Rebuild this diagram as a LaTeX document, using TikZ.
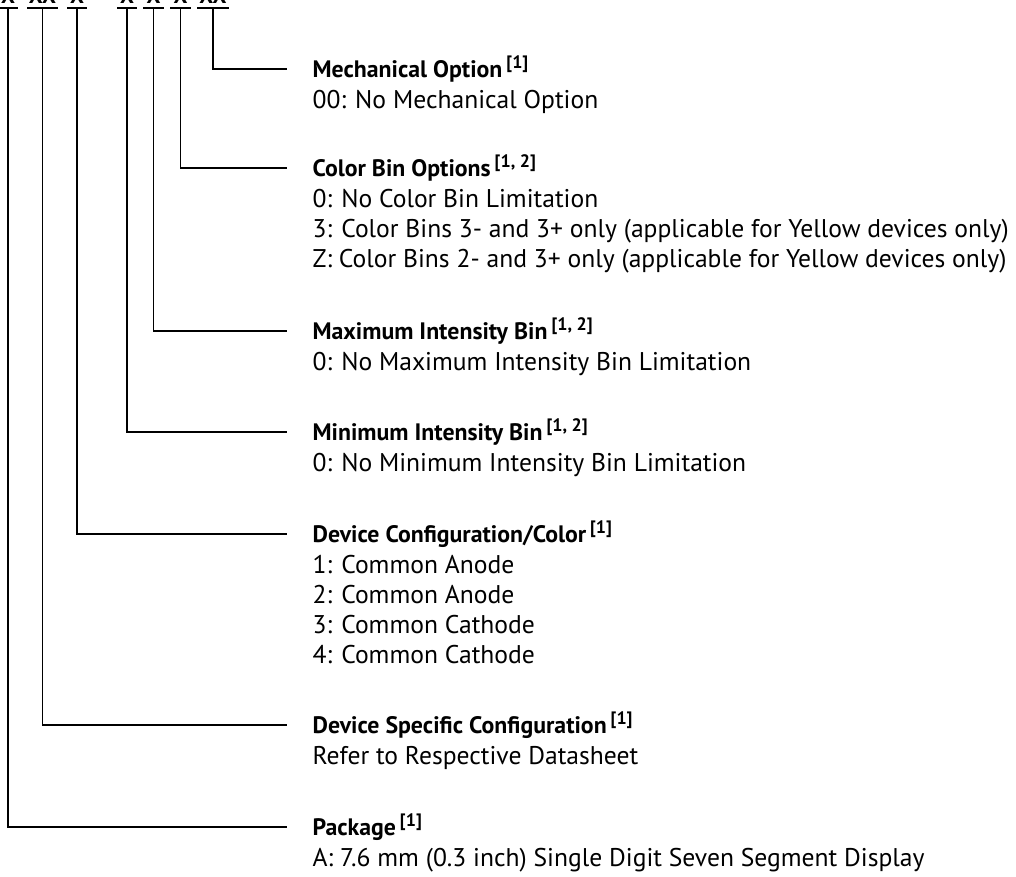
\documentclass[tikz,border=0pt]{standalone}
\usepackage{fontspec}
\setmainfont{PT Sans}
\usetikzlibrary{positioning}
\newcommand{\noteref}[1]{\hspace{4pt}\raisebox{9pt}{\fontsize{18}{18}\selectfont[#1]}}
\newcommand{\topstrut}{\rule{0pt}{26pt}}

\begin{document}
\begin{tikzpicture}[x=1pt, y=-1pt, line width=1.2pt,
    code/.style={anchor=base, inner sep=0pt, font=\bfseries\fontsize{22}{22}\selectfont},
    head/.style={anchor=base west, inner sep=0pt, font=\bfseries\fontsize{23.8}{24}\selectfont},
    desc/.style={inner sep=0pt, align=left, font=\fontsize{25.6}{30}\selectfont},
    lead/.style={xshift=-25pt, yshift=8pt}]
  \useasboundingbox (0,0) rectangle (1016,876);
  % part number marks, cut off at the top edge
  \foreach \n/\x/\w/\t in {1/8/20/X, 2/42.5/31/XX, 3/77/20/X, 4/127/20/X, 5/153.5/21/X, 6/180.5/21/X, 7/213/32/XX} {
    \node[code] (c\n) at (\x,3) {\t};
    \coordinate (t\n) at (\x,8);
    \draw (t\n) ++(-\w/2,0) -- ++(\w,0);
  }

  \node[head] (h7) at (312,77) {Mechanical Option\noteref{1}};
  \node[desc, below=5pt of h7.base west, anchor=north west] (d7) {\topstrut 00: No Mechanical Option};
  \node[head] (h6) at (312,176) {Color Bin Options\noteref{1, 2}};
  \node[desc, below=5pt of h6.base west, anchor=north west] (d6) {\topstrut 0: No Color Bin Limitation\\3: Color Bins 3- and 3+ only (applicable for Yellow devices only)\\Z: Color Bins 2- and 3+ only (applicable for Yellow devices only)};
  \node[head] (h5) at (312,339) {Maximum Intensity Bin\noteref{1, 2}};
  \node[desc, below=5pt of h5.base west, anchor=north west] (d5) {\topstrut 0: No Maximum Intensity Bin Limitation};
  \node[head] (h4) at (312,440) {Minimum Intensity Bin\noteref{1, 2}};
  \node[desc, below=5pt of h4.base west, anchor=north west] (d4) {\topstrut 0: No Minimum Intensity Bin Limitation};
  \node[head] (h3) at (312,542) {Device Configuration/Color\noteref{1}};
  \node[desc, below=5pt of h3.base west, anchor=north west] (d3) {\topstrut 1: Common Anode\\2: Common Anode\\3: Common Cathode\\4: Common Cathode};
  \node[head] (h2) at (312,733) {Device Specific Configuration\noteref{1}};
  \node[desc, below=5pt of h2.base west, anchor=north west] (d2) {\topstrut Refer to Respective Datasheet};
  \node[head] (h1) at (312,835) {Package\noteref{1}};
  \node[desc, below=5pt of h1.base west, anchor=north west] (d1) {\topstrut A: 7.6 mm (0.3 inch) Single Digit Seven Segment Display};

  \foreach \n in {1,...,7}
    \draw (t\n) |- ([lead]h\n.base west);
\end{tikzpicture}
\end{document}
